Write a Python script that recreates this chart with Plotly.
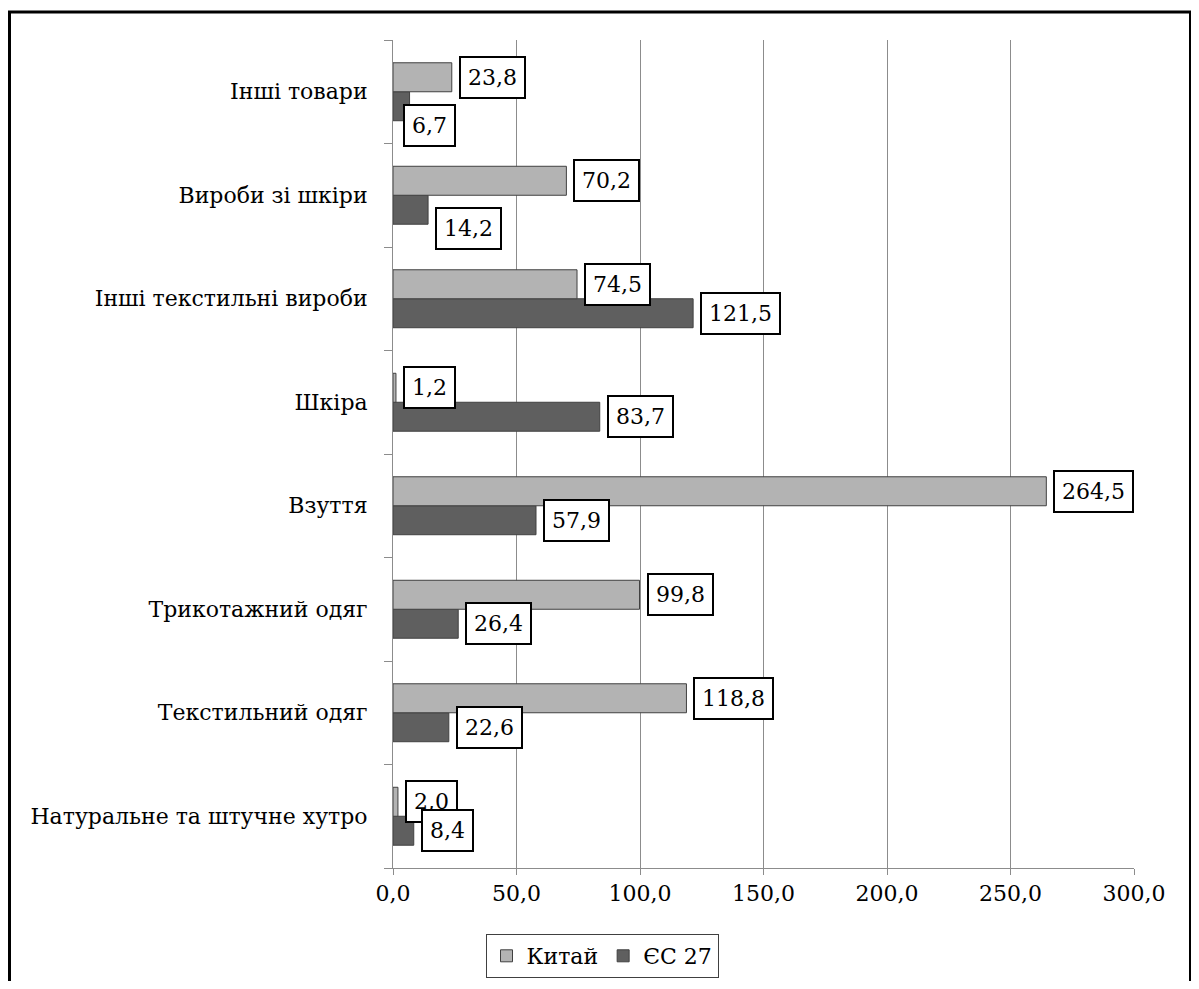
import plotly.graph_objects as go

categories = [
    "Натуральне та штучне хутро",
    "Текстильний одяг",
    "Трикотажний одяг",
    "Взуття",
    "Шкіра",
    "Інші текстильні вироби",
    "Вироби зі шкіри",
    "Інші товари",
]
china = [2.0, 118.8, 99.8, 264.5, 1.2, 74.5, 70.2, 23.8]
eu27 = [8.4, 22.6, 26.4, 57.9, 83.7, 121.5, 14.2, 6.7]
series_names = ["Китай", "ЄС 27"]
x_ticks = [0, 50, 100, 150, 200, 250, 300]

FONT = "'DejaVu Serif', serif"
FS = 22
C_CHINA = "#b3b3b3"
C_EU = "#5f5f5f"
EDGE = "#404040"
GRID = "#8c8c8c"

# figure geometry (page has an 8px body margin)
W, H = 1183, 973
L, R, T, B = 385, 57, 32, 113
PW, PH = W - L - R, H - T - B

fig = go.Figure()
fig.add_trace(go.Bar(y=categories, x=eu27, orientation="h", name=series_names[1],
                     marker=dict(color=C_EU, line=dict(color=EDGE, width=1)),
                     legendrank=2))
fig.add_trace(go.Bar(y=categories, x=china, orientation="h", name=series_names[0],
                     marker=dict(color=C_CHINA, line=dict(color=EDGE, width=1)),
                     legendrank=1))

def fmt(v):
    return f"{v:.1f}".replace(".", ",")

# label collision nudges (x px, y px) as in the original layout
nudges_eu = {"Інші товари": (-13.5, -19.5), "Вироби зі шкіри": (0, -18.5)}

label_style = dict(xanchor="left", yanchor="middle", showarrow=False,
                   font=dict(family=FONT, size=FS, color="black"),
                   bordercolor="black", borderwidth=2, borderpad=7, bgcolor="white")

for cat, v in zip(categories, china):
    fig.add_annotation(x=v, y=cat, text=fmt(v), xshift=7, yshift=14.5, **label_style)
for cat, v in zip(categories, eu27):
    dx, dy = nudges_eu.get(cat, (0, 0))
    fig.add_annotation(x=v, y=cat, text=fmt(v), xshift=7 + dx, yshift=-14.5 + dy, **label_style)

fig.add_shape(type="rect", xref="paper", yref="paper",
              x0=(1.5 - L) / PW, x1=(1182.5 - L) / PW,
              y0=(PH + T - 1000) / PH, y1=(PH + T - 4) / PH,
              line=dict(color="black", width=3), layer="above")

fig.update_layout(
    width=W, height=H,
    margin=dict(l=L, r=R, t=T, b=B, autoexpand=False),
    paper_bgcolor="white", plot_bgcolor="white",
    separators=", ",
    barmode="group", bargap=0.44, bargroupgap=0,
    font=dict(family=FONT, size=FS, color="black"),
    showlegend=True,
    legend=dict(orientation="h", xref="container", yref="container",
                x=594 / W, xanchor="center",
                y=1 - 926 / H, yanchor="top",
                bordercolor="#404040", borderwidth=1,
                font=dict(family=FONT, size=FS, color="black"),
                itemwidth=30, tracegroupgap=0),
    xaxis=dict(range=[0, 300], tickvals=x_ticks, tickformat=".1f",
               showgrid=True, gridcolor=GRID, gridwidth=1,
               showline=True, linecolor=GRID, linewidth=1,
               ticks="outside", ticklen=6, tickcolor=GRID,
               zeroline=False, fixedrange=True),
    yaxis=dict(categoryorder="array", categoryarray=categories,
               showline=True, linecolor=GRID, linewidth=1,
               ticks="outside", ticklen=8, tickcolor=GRID, tickson="boundaries",
               ticklabelstandoff=20, showgrid=False),
)

fig.write_html("out.html")
